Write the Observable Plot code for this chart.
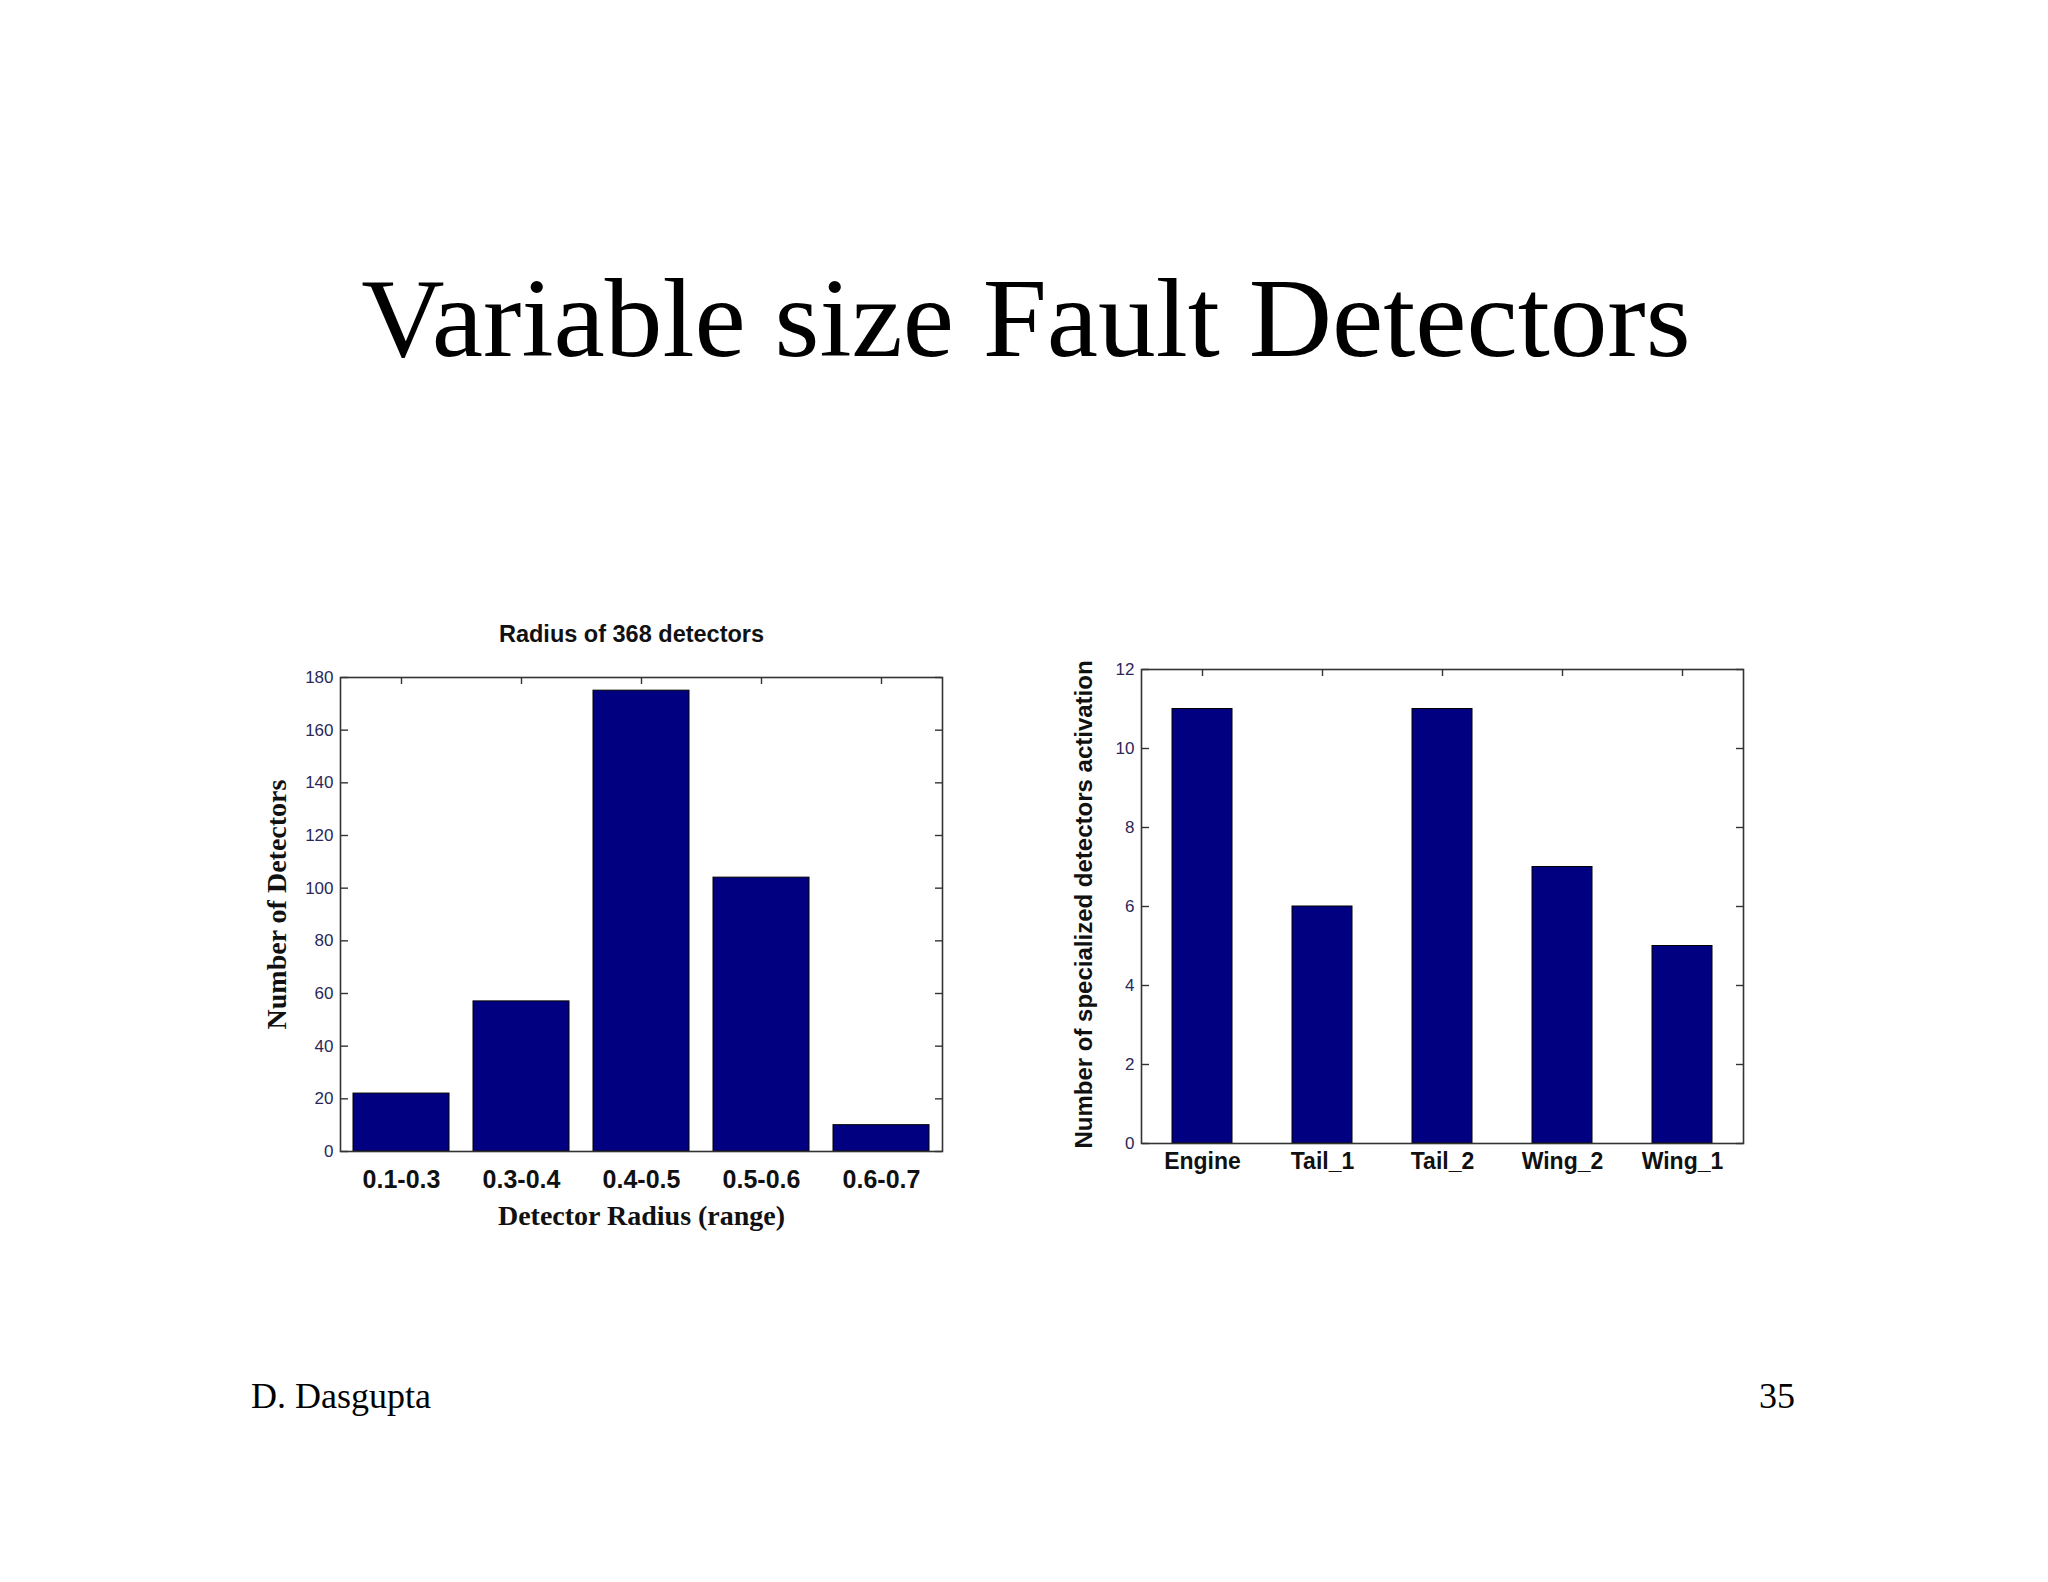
<!DOCTYPE html>
<html><head><meta charset="utf-8">
<script src="https://cdn.jsdelivr.net/npm/d3@7"></script>
<script src="https://cdn.jsdelivr.net/npm/@observablehq/plot@0.6"></script>
<style>
html,body{margin:0;padding:0;background:#fff;}
#page{position:relative;width:2048px;height:1582px;overflow:hidden;background:#fff;}
.abs{position:absolute;white-space:nowrap;}
#title{left:0;top:262px;width:2052px;text-align:center;font-family:"Liberation Serif","Times New Roman",serif;font-size:112px;line-height:112px;color:#000;transform:scaleX(1.03);transform-origin:1026px 0;}
#author{left:251px;top:1378px;font-family:"Liberation Serif","Times New Roman",serif;font-size:36px;line-height:36px;color:#000;}
#pagenum{right:253px;top:1378px;text-align:right;font-family:"Liberation Serif","Times New Roman",serif;font-size:36px;line-height:36px;color:#000;}
</style></head><body>
<div id="page">
  <div id="title" class="abs">Variable size Fault Detectors</div>
  <div id="left" class="abs" style="left:200px;top:600px"></div>
  <div id="right" class="abs" style="left:1000px;top:600px"></div>
  <div id="author" class="abs">D. Dasgupta</div>
  <div id="pagenum" class="abs">35</div>
</div>
<script>
// ---- data ----
const radiusCategories = ["0.1-0.3", "0.3-0.4", "0.4-0.5", "0.5-0.6", "0.6-0.7"];
const detectorCounts = [22, 57, 175, 104, 10];
const radiusTicks = [0, 20, 40, 60, 80, 100, 120, 140, 160, 180];
const radiusTitle = "Radius of 368 detectors";
const radiusXLabel = "Detector Radius (range)";
const radiusYLabel = "Number of Detectors";

const faultCategories = ["Engine", "Tail_1", "Tail_2", "Wing_2", "Wing_1"];
const activationCounts = [11, 6, 11, 7, 5];
const activationTicks = [0, 2, 4, 6, 8, 10, 12];
const activationYLabel = "Number of specialized detectors activation";

const sans = "'Liberation Sans', Arial, Helvetica, sans-serif";
const serif = "'Liberation Serif', 'Times New Roman', serif";
const tickColor = "#2a2858";
const frameColor = "#333";

function chart({cats, vals, ticks, yMax, width, height, margins, padInner, padOuter,
                xFont, xPad, title, xLabel, yLabel, yLabelFont, yLabelDx, yLabelDy, xLabelDy}) {
  const data = cats.map((c, i) => ({cat: c, value: vals[i]}));
  const pw = width - margins.left - margins.right;
  const ph = height - margins.top - margins.bottom;
  const marks = [
    Plot.barY(data, {x: "cat", y: "value", fill: "#000080", stroke: "#000", strokeWidth: 1}),
    Plot.frame({stroke: frameColor, strokeWidth: 1.6}),
    // y tick labels
    Plot.axisY({anchor: "left", ticks, tickSize: 0, tickPadding: 7, label: null,
      fontSize: 17, fontFamily: sans, fill: tickColor}),
    // inward ticks left
    Plot.axisY({anchor: "right", ticks, tickSize: 7, dx: -pw, tickFormat: () => "", label: null, stroke: frameColor, strokeWidth: 1.4}),
    // inward ticks right
    Plot.axisY({anchor: "left", ticks, tickSize: 7, dx: pw, tickFormat: () => "", label: null, stroke: frameColor, strokeWidth: 1.4}),
    // inward ticks top
    Plot.axisX({anchor: "bottom", tickSize: 7, dy: -ph, tickFormat: () => "", label: null, stroke: frameColor, strokeWidth: 1.4}),
    // x tick labels
    Plot.axisX({anchor: "bottom", tickSize: 0, tickPadding: xPad, label: null,
      fontSize: xFont, fontWeight: "bold", fontFamily: sans, fill: "#111"}),
    Plot.text([yLabel], {text: d => d, frameAnchor: "left", rotate: -90, dx: yLabelDx, dy: yLabelDy,
      fontSize: yLabelFont.size, fontFamily: yLabelFont.family, fontWeight: "bold", fill: "#111", textAnchor: "middle", lineAnchor: "middle"})
  ];
  if (title) marks.push(Plot.text([title], {text: d => d, frameAnchor: "top", dx: -10, dy: -36, lineAnchor: "bottom",
      fontSize: 23.5, fontFamily: sans, fontWeight: "bold", fill: "#111"}));
  if (xLabel) marks.push(Plot.text([xLabel], {text: d => d, frameAnchor: "bottom", dy: xLabelDy, lineAnchor: "bottom",
      fontSize: 28, fontFamily: serif, fontWeight: "bold", fill: "#111"}));
  return Plot.plot({
    width, height,
    marginLeft: margins.left, marginRight: margins.right, marginTop: margins.top, marginBottom: margins.bottom,
    style: {background: "transparent", overflow: "visible", fontFamily: sans},
    x: {type: "band", domain: cats, paddingInner: padInner, paddingOuter: padOuter, label: null},
    y: {domain: [0, yMax], label: null},
    marks
  });
}

document.getElementById("left").append(chart({
  cats: radiusCategories, vals: detectorCounts, ticks: radiusTicks, yMax: 180,
  width: 800, height: 660, margins: {left: 140, right: 58, top: 77, bottom: 109},
  padInner: 0.2, padOuter: 0.1, xFont: 25, xPad: 19,
  title: radiusTitle, xLabel: radiusXLabel, xLabelDy: 73,
  yLabel: radiusYLabel, yLabelFont: {size: 28, family: serif}, yLabelDx: -63, yLabelDy: -10
}));

document.getElementById("right").append(chart({
  cats: faultCategories, vals: activationCounts, ticks: activationTicks, yMax: 12,
  width: 800, height: 600, margins: {left: 141, right: 57, top: 69, bottom: 57},
  padInner: 0.5, padOuter: 0.25, xFont: 23, xPad: 9,
  title: null, xLabel: null,
  yLabel: activationYLabel, yLabelFont: {size: 24, family: sans}, yLabelDx: -57, yLabelDy: -2
}));
</script>
</body></html>
